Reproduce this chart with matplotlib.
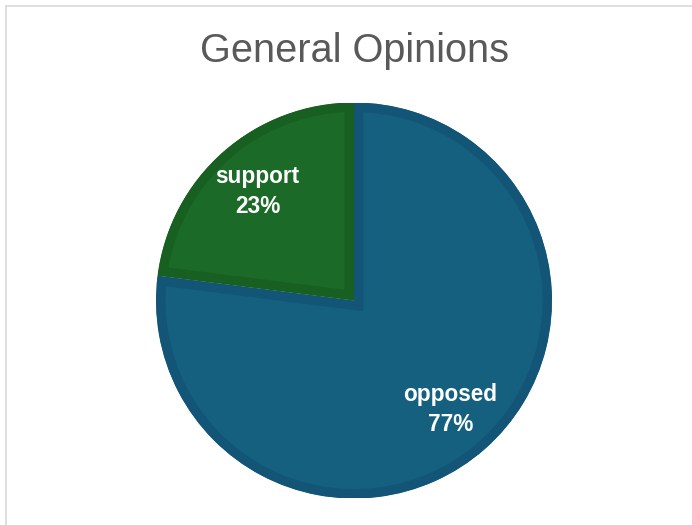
import matplotlib
matplotlib.use("Agg")
import matplotlib.pyplot as plt
from matplotlib.lines import Line2D

categories = ["opposed", "support"]
values = [77, 23]
fill_colors = ["#16607f", "#1b6a27"]
edge_colors = ["#135577", "#186021"]
title = "General Opinions"

plt.rcParams['font.family'] = ['Liberation Sans', 'DejaVu Sans']

W, H = 692, 525
fig = plt.figure(figsize=(W / 100, H / 100), dpi=100)
fig.patch.set_facecolor("white")

cx, cy, r = 354, 300.5, 198
ax = fig.add_axes([(cx - r) / W, (H - cy - r) / H, 2 * r / W, 2 * r / H])

def fmt(pct, vals=values, cats=categories):
    total = sum(vals)
    for c, v in zip(cats, vals):
        if abs(v / total * 100 - pct) < 0.01:
            return f"{c}\n{v:.0f}%"
    return f"{pct:.0f}%"

wedges, texts, autotexts = ax.pie(
    values, colors=fill_colors, startangle=90, counterclock=False,
    autopct=fmt, pctdistance=0.735, radius=1.0,
    textprops=dict(color="white", fontsize=16.3, fontweight="bold"),
)
for t in autotexts:
    t.set_linespacing(1.42)
    t.set_ha("center")
    t.set_va("center")

bw_pt = 9.5 * 72 / 100
for w, ec in zip(wedges, edge_colors):
    w.set_edgecolor(ec)
    w.set_linewidth(2 * bw_pt)
    w.set_clip_on(True)
    w.set_clip_path(w)

ax.set_xlim(-1, 1)
ax.set_ylim(-1, 1)
ax.axis("off")

fig.text(354.5 / W, 1 - 62 / H, title, ha="center", va="baseline",
         fontsize=28.6, color="#595959")

fig.add_artist(Line2D([5.5 / W, 1.0], [1 - 5.5 / H, 1 - 5.5 / H],
                      transform=fig.transFigure, color="#d9d9d9", lw=1.2))
fig.add_artist(Line2D([5.5 / W, 5.5 / W], [0.0, 1 - 5.5 / H],
                      transform=fig.transFigure, color="#d9d9d9", lw=1.2))

fig.savefig("out.png", dpi=100, facecolor="white")
